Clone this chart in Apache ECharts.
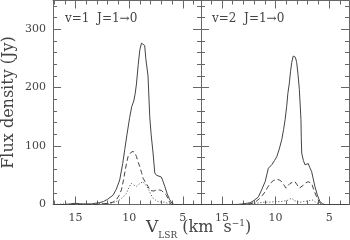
<!DOCTYPE html>
<html><head><meta charset="utf-8">
<script src="https://cdn.jsdelivr.net/npm/echarts@6/dist/echarts.min.js"></script>
<style>html,body{margin:0;padding:0;background:#fff}#c{width:350px;height:240px}</style>
</head><body><div id="c"></div><script>
// ---- data ----
const xTickMajor = [5, 10, 15];
const xTickMinor = [4, 5, 6, 7, 8, 9, 10, 11, 12, 13, 14, 15, 16, 17];
const yTickMajor = [0, 100, 200, 300];
const yTickMinor = [20, 40, 60, 80, 120, 140, 160, 180, 220, 240, 260, 280, 320, 340];

const leftSolidV = [17.0,16.0,15.5,15.0,14.5,14.0,13.5,13.2,12.8,12.4,12.0,11.5,11.2,10.88,10.6,10.41,10.2,9.95,9.75,9.57,9.45,9.32,9.15,9.0,8.85,8.70,8.55,8.45,8.24,8.08,7.95,7.77,7.61,7.45,7.3,7.0,6.85,6.68,6.45,6.21,6.0,5.8,5.0,3.3];
const leftSolidF = [0,0,1,2,1,1,1,2,3,5,9,16,26,42,70,94,120,149,168,177,188,206,240,265,276,279,272,250,220,150,120,88,54,50,49,47,40,31,18,8,2,0,0,0];
const leftDashV = [17,13,12.5,12,11.5,11.2,10.95,10.72,10.55,10.41,10.25,10.1,9.9,9.64,9.45,9.32,9.15,9.01,8.85,8.7,8.45,8.24,8.05,7.92,7.7,7.45,7.2,6.99,6.75,6.52,6.3,6.05,3.3];
const leftDashF = [0,0,1,2,4,8,15,25,40,54,70,82,88,91,88,82,72,65,55,45,37,31,24,22,23,25,25,24,20,16,6,0,0];
const leftDotV = [17,16,15.5,15,14.5,14,13,12.5,12,11.5,11.2,10.88,10.55,10.26,10.0,9.8,9.55,9.32,9.0,8.7,8.45,8.24,8.0,7.77,7.5,7.3,7.0,6.7,6.4,6.1,3.3];
const leftDotF = [0,1,0,2,1,0,1,2,1,3,5,8,13,19,30,36,33,31,36,39,33,28,18,11,7,5,4,4,2,0,0];

const rightSolidV = [17,14,13.5,13,12.7,12.37,12,11.6,11.3,10.97,10.8,10.67,10.5,10.35,10.1,9.88,9.65,9.42,9.25,9.11,8.96,8.85,8.71,8.6,8.49,8.35,8.25,8.15,8.03,7.9,7.78,7.7,7.63,7.6,7.56,7.4,7.25,7.1,6.95,6.8,6.63,6.5,6.33,6.1,5.86,5.6,5.4,3.2];
const rightSolidF = [0,0,0,1,2,3,7,13,25,39,52,62,65,68,75,82,95,111,128,145,168,190,208,228,243,254,257,252,243,222,197,170,145,115,88,75,68,70,70,63,56,45,31,16,5,1,0,0];
const rightDashV = [17,13,12.4,11.9,11.5,11.2,10.97,10.75,10.5,10.2,9.88,9.65,9.42,9.2,9.02,8.85,8.65,8.4,8.19,8.0,7.78,7.6,7.41,7.2,6.95,6.8,6.63,6.45,6.17,5.95,5.7,3.2];
const rightDashF = [0,0,1,4,10,16,22,29,36,41,43,42,39,33,28,32,36,38,39,34,28,30,33,37,39,38,36,26,13,5,0,0];
const rightDotV = [17,14,13,12,11.5,11,10.5,10,9.5,9.2,8.9,8.7,8.49,8.3,8.0,7.7,7.4,7.0,6.8,6.6,6.4,6.2,5.9,5.6,3.2];
const rightDotF = [0,0,1,2,3,4,4,5,5,6,7,9,11,7,5,4,5,6,7,8,6,3,1,0,0];

const panelLabels = ['v=1  J=1\u21920', 'v=2  J=1\u21920'];
const yName = 'Flux density (Jy)';

// ---- chart ----
const frame = '#666';
const ink = '#444';
const lineCol = '#444';
const FONT = 'DejaVu Serif';
const xRanges = [[3.3, 17.1], [3.15, 16.95]];
const yMax = 349;

function pairs(v, f) { return v.map((x, i) => [x, f[i]]); }

function xAx(g, pos, vals, len, label, line) {
  return {
    type: 'value', gridIndex: g, position: pos, inverse: true,
    min: xRanges[g][0], max: xRanges[g][1],
    axisLine: { show: line, onZero: false, lineStyle: { color: frame, width: 1 } },
    axisTick: { show: true, inside: true, length: len, customValues: vals, lineStyle: { color: frame, width: 1 } },
    axisLabel: { show: label, customValues: vals, color: ink, fontFamily: FONT, fontSize: 11, margin: 8 },
    splitLine: { show: false }
  };
}
function yAx(g, pos, vals, len, label, line) {
  const a = {
    type: 'value', gridIndex: g, position: pos, min: 0, max: yMax,
    axisLine: { show: line, onZero: false, lineStyle: { color: frame, width: 1 } },
    axisTick: { show: true, inside: true, length: len, customValues: vals, lineStyle: { color: frame, width: 1 } },
    axisLabel: { show: label, customValues: vals, color: ink, fontFamily: FONT, fontSize: 11, margin: 7 },
    splitLine: { show: false }
  };
  if (label) {
    a.name = yName; a.nameLocation = 'middle'; a.nameGap = 36;
    a.nameTextStyle = { color: ink, fontFamily: FONT, fontSize: 16 };
  }
  return a;
}

const xAxis = [], yAxis = [];
for (let g = 0; g < 2; g++) {
  xAxis.push(xAx(g, 'bottom', xTickMajor, 8, true, true));
  xAxis.push(xAx(g, 'bottom', xTickMinor, 4, false, false));
  xAxis.push(xAx(g, 'top', xTickMajor, 8, false, true));
  xAxis.push(xAx(g, 'top', xTickMinor, 4, false, false));
  yAxis.push(yAx(g, 'left', yTickMajor, 8, g === 0, true));
  yAxis.push(yAx(g, 'left', yTickMinor, 4, false, false));
  yAxis.push(yAx(g, 'right', yTickMajor, 8, false, true));
  yAxis.push(yAx(g, 'right', yTickMinor, 4, false, false));
}

function ser(g, v, f, type) {
  return {
    type: 'line', xAxisIndex: g * 4, yAxisIndex: g * 4, data: pairs(v, f),
    showSymbol: false, symbol: 'none', silent: true, animation: false,
    lineStyle: { color: lineCol, width: 1, type: type }
  };
}

const series = [
  ser(0, leftSolidV, leftSolidF, 'solid'),
  ser(0, leftDashV, leftDashF, [5, 3]),
  ser(0, leftDotV, leftDotF, [1, 2]),
  ser(1, rightSolidV, rightSolidF, 'solid'),
  ser(1, rightDashV, rightDashF, [5, 3]),
  ser(1, rightDotV, rightDotF, [1, 2])
];

const chart = echarts.init(document.getElementById('c'), null, { renderer: 'canvas' });
chart.setOption({
  animation: false,
  backgroundColor: '#fff',
  grid: [
    { left: 53, top: 0.5, width: 148, height: 204 },
    { left: 201, top: 0.5, width: 148, height: 204 }
  ],
  xAxis: xAxis, yAxis: yAxis, series: series,
  graphic: [
    { type: 'text', left: 65, top: 13, style: { text: panelLabels[0], fill: ink, font: '12px "DejaVu Serif"' } },
    { type: 'text', left: 212, top: 13, style: { text: panelLabels[1], fill: ink, font: '12px "DejaVu Serif"' } },
    { type: 'text', left: 146, top: 219, style: {
        text: '{v|V}{s|LSR}{t| (km  s}{p|\u22121}{t|)}',
        fill: ink,
        rich: {
          v: { fontFamily: FONT, fontSize: 17, fill: ink, verticalAlign: 'bottom' },
          s: { fontFamily: FONT, fontSize: 9, fill: ink, verticalAlign: 'bottom', padding: [0, 0, -4, 0] },
          t: { fontFamily: FONT, fontSize: 16, fill: ink, verticalAlign: 'bottom' },
          p: { fontFamily: FONT, fontSize: 9, fill: ink, verticalAlign: 'bottom', padding: [0, 0, 8, 0] }
        }
    } }
  ]
});
</script></body></html>
